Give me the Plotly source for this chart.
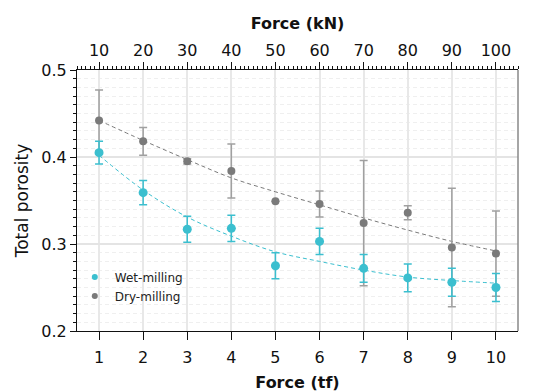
import plotly.graph_objects as go

force_tf = [1, 2, 3, 4, 5, 6, 7, 8, 9, 10]
wet_mean = [0.405, 0.359, 0.317, 0.318, 0.275, 0.303, 0.272, 0.261, 0.256, 0.250]
wet_err = [0.013, 0.014, 0.015, 0.015, 0.015, 0.015, 0.016, 0.016, 0.016, 0.016]
dry_mean = [0.442, 0.418, 0.395, 0.384, 0.349, 0.346, 0.324, 0.336, 0.296, 0.289]
dry_err = [0.035, 0.016, 0.003, 0.031, 0.0, 0.015, 0.072, 0.008, 0.068, 0.049]
wet_fit = [0.402, 0.362, 0.331, 0.309, 0.291, 0.280, 0.270, 0.262, 0.258, 0.255]
dry_fit = [0.442, 0.419, 0.397, 0.376, 0.360, 0.345, 0.330, 0.316, 0.303, 0.292]
kn_ticks = [10, 20, 30, 40, 50, 60, 70, 80, 90, 100]

WET = "#3bbfcf"
DRY = "#7a7a7a"
FONT = "DejaVu Sans"

fig = go.Figure()

fig.add_trace(go.Scatter(x=force_tf, y=wet_fit, mode="lines", line=dict(color=WET, width=1, dash="4px,3px", shape="spline"),
                         showlegend=False, hoverinfo="skip"))
fig.add_trace(go.Scatter(x=force_tf, y=dry_fit, mode="lines", line=dict(color=DRY, width=1, dash="4px,3px", shape="spline"),
                         showlegend=False, hoverinfo="skip"))

fig.add_trace(go.Scatter(x=force_tf, y=dry_mean, mode="markers",
                         marker=dict(color=DRY, size=8),
                         error_y=dict(type="data", array=dry_err, color="#a0a0a0", thickness=1.5, width=4),
                         showlegend=False))
fig.add_trace(go.Scatter(x=force_tf, y=wet_mean, mode="markers",
                         marker=dict(color=WET, size=9),
                         error_y=dict(type="data", array=wet_err, color=WET, thickness=1.5, width=4),
                         showlegend=False))

# legend-only entries
fig.add_trace(go.Scatter(x=[None], y=[None], mode="markers", marker=dict(color=WET, size=6), name="Wet-milling"))
fig.add_trace(go.Scatter(x=[None], y=[None], mode="markers", marker=dict(color=DRY, size=6), name="Dry-milling"))

# top axis dummy trace
fig.add_trace(go.Scatter(x=[None], y=[None], xaxis="x2", showlegend=False))

fig.update_layout(
    width=541, height=392,
    margin=dict(l=77, r=23, t=70, b=61),
    paper_bgcolor="white", plot_bgcolor="white",
    font=dict(family=FONT, color="#111", size=15),
    xaxis=dict(
        range=[0.5, 10.5], tickmode="array", tickvals=force_tf, ticktext=[str(v) for v in force_tf],
        ticks="outside", ticklen=8, tickcolor="#111", tickwidth=1, ticklabelstandoff=4,
        showline=True, linecolor="#111", linewidth=1, mirror=False, automargin=False,
        showgrid=True, gridcolor="#e8e8e8", gridwidth=1.5,
        title=dict(text="<b>Force (tf)</b>", font=dict(size=16), standoff=10),
        tickfont=dict(size=16), zeroline=False,
    ),
    xaxis2=dict(
        overlaying="x", side="top", range=[5, 105], tickmode="array", tickvals=kn_ticks,
        ticktext=[str(v) for v in kn_ticks], automargin=False,
        ticks="outside", ticklen=7, tickcolor="#111", tickwidth=1,
        minor=dict(dtick=1, ticklen=3, tickcolor="#111", ticks="outside", showgrid=False),
        showline=True, linecolor="#111", linewidth=1,
        showgrid=False, zeroline=False,
        title=dict(text="<b>Force (kN)</b>", font=dict(size=16), standoff=6),
        tickfont=dict(size=16),
    ),
    yaxis=dict(
        range=[0.2, 0.5], tickmode="array", tickvals=[0.2, 0.3, 0.4, 0.5],
        ticktext=["0.2", "0.3", "0.4", "0.5"], automargin=False,
        ticks="outside", ticklen=6, tickcolor="#111", tickwidth=1,
        minor=dict(dtick=0.01, ticklen=3, tickcolor="#111", ticks="outside",
                   showgrid=True, gridcolor="#efefef", griddash="4px,3px", gridwidth=1),
        showline=True, linecolor="#111", linewidth=1, mirror=False,
        showgrid=True, gridcolor="#e4e4e4", gridwidth=1.5,
        title=dict(text="Total porosity", font=dict(size=17), standoff=8),
        tickfont=dict(size=16), zeroline=False,
    ),
    legend=dict(x=-0.005, y=0.262, xanchor="left", yanchor="top", bgcolor="rgba(0,0,0,0)",
                font=dict(size=12, color="#222"), itemwidth=30, tracegroupgap=0),
    shapes=[dict(type="line", xref="paper", yref="paper", x0=1, x1=1, y0=0, y1=1,
                 line=dict(color="#888", width=1.5))],
)

fig.write_html("out.html")
